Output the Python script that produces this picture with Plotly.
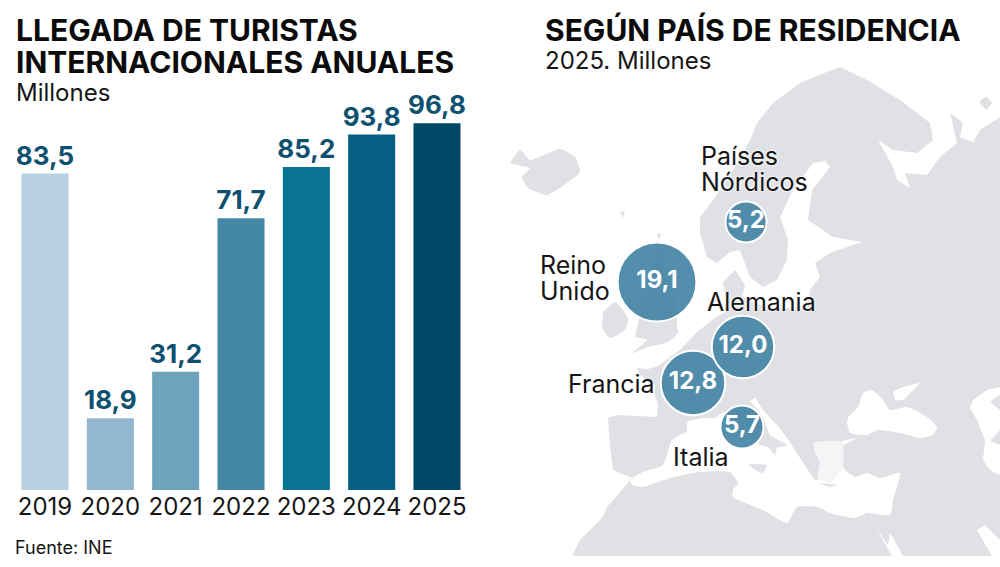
import plotly.graph_objects as go

# ---- data ----
years = ["2019", "2020", "2021", "2022", "2023", "2024", "2025"]
arrivals = [83.5, 18.9, 31.2, 71.7, 85.2, 93.8, 96.8]
bar_colors = ["#b8d2e2", "#93b7ce", "#6ea3bd", "#4487a6", "#0a7393", "#045f82", "#004867"]

origin_names = ["Países Nórdicos", "Reino Unido", "Francia", "Alemania", "Italia"]
origin_values = [5.2, 19.1, 12.8, 12.0, 5.7]
origin_map_x = [746, 657, 693, 743, 742]
origin_map_y = [222, 282, 383, 347, 427]

# ---- base map outlines, in map units ----
land_main = [(572,556),(580,540),(603,517),(607,507),(627,484),(632,478),(613,470),(610,447),(608,418),(617,415),(657,417),
 (658,405),(655,395),(655,385),(640,375),(637,368),(648,369),(658,366),(670,357),(680,350),(697,332),(715,318),(725,312),
 (725,295),(723,282),(735,270),(745,285),(742,296),(752,302),(770,308),(795,308),(807,305),(810,290),(820,277),(815,263),
 (830,253),(862,242),(833,237),(808,220),(812,190),(830,167),(825,161),(813,163),(793,190),(780,217),(788,240),(787,260),
 (777,280),(763,287),(750,277),(740,250),(730,252),(717,263),(707,257),(700,233),(700,217),(713,200),(733,170),(750,140),
 (757,123),(773,103),(800,83),(827,72),(840,67),(867,80),(900,100),(930,123),(933,140),(917,153),(893,150),(878,140),
 (893,167),(897,180),(910,188),(905,173),(927,175),(940,157),(957,143),(950,113),(963,123),(960,137),(973,142),(980,130),
 (1000,117),(1000,556)]
mediterranean = [(630,481),(632,478),(643,472),(663,465),(672,440),(687,431),(687,422),(703,418),(715,418),(722,413),(745,405),
 (755,398),(763,410),(777,425),(790,442),(800,458),(808,470),(815,480),(820,478),(822,465),(815,452),(815,445),(837,442),
 (857,438),(842,447),(843,467),(855,477),(867,473),(880,478),(890,475),(900,473),(893,500),(890,515),(867,513),(855,518),
 (830,513),(817,507),(797,507),(787,523),(763,510),(733,497),(733,490),(738,483),(730,472),(700,472),(670,478),(643,487),(632,485)]
italy = [(725,412),(750,402),(763,417),(770,435),(787,445),(777,448),(775,455),(768,447),(760,445),(745,430),(730,418)]
sicily = [(748,464),(767,465),(763,473),(755,470)]
crete = [(818,483),(838,485),(830,487)]
black_sea = [(847,423),(850,433),(867,435),(878,430),(900,433),(920,438),(933,435),(937,427),(927,417),(907,407),(890,410),
 (883,400),(872,390),(863,393),(858,407),(848,417)]
azov = [(893,392),(903,387),(920,383),(910,393),(903,400),(895,400)]
caspian = [(1000,387),(987,390),(973,400),(970,408),(977,420),(985,440),(983,460),(990,470),(1000,475),(1000,445),(990,441),
 (1000,430),(1000,410),(990,402),(1000,395)]
red_sea = [(977,530),(985,525),(1000,540),(1000,556),(992,556)]
suez = [(876,528),(888,545),(890,533),(903,556),(892,556)]
iceland = [(510,163),(520,150),(530,160),(537,158),(560,149),(575,157),(580,172),(567,183),(547,195),(528,188),(522,177),(530,168),(517,165)]
ireland = [(603,312),(615,302),(628,318),(625,330),(610,338),(602,328)]
britain = [(638,323),(643,300),(652,262),(660,245),(667,262),(676,300),(677,325),(678,333),(668,342),(648,347),(632,353),
 (647,340),(635,337)]
kolguev = [(979,102),(986,97),(992,103),(986,110)]
faroe = [(620,211),(625,212),(623,218)]
shetland = [(657,234),(661,233),(659,240)]
aegean_tint = [(813,442),(842,442),(843,467),(830,483),(818,478),(820,462)]

MAP_GREY = "#e0e1e5"
layers = [(land_main, MAP_GREY, "linear"), (mediterranean, "white", "spline"), (aegean_tint, "#f5f5f7", "spline"), (italy, MAP_GREY, "spline"),
          (sicily, MAP_GREY, "spline"), (crete, MAP_GREY, "linear"), (black_sea, "white", "spline"), (azov, "white", "spline"),
          (caspian, "white", "linear"), (red_sea, "white", "linear"), (suez, "white", "linear"),
          (iceland, MAP_GREY, "spline"), (ireland, MAP_GREY, "spline"), (britain, MAP_GREY, "spline"),
          (kolguev, MAP_GREY, "spline"), (faroe, MAP_GREY, "linear"), (shetland, MAP_GREY, "linear")]

FONT = "Inter, Liberation Sans, sans-serif"
fmt = lambda v: f"{v:.1f}".replace(".", ",")

fig = go.Figure()

for poly, col, shape in layers:
    fig.add_trace(go.Scatter(x=[p[0] for p in poly], y=[p[1] for p in poly], mode="lines", fill="toself",
                             fillcolor=col, line=dict(width=0, shape=shape, smoothing=0.5), hoverinfo="skip", showlegend=False,
                             xaxis="x2", yaxis="y2"))

fig.add_trace(go.Bar(x=years, y=arrivals, marker=dict(color=bar_colors, line=dict(width=0)),
                     text=[fmt(v) for v in arrivals], textposition="outside", cliponaxis=False, constraintext="none",
                     textfont=dict(family=FONT, size=26, color="#0e5070", weight=700),
                     hoverinfo="skip", showlegend=False, xaxis="x", yaxis="y"))

fig.add_trace(go.Scatter(x=origin_map_x, y=origin_map_y, mode="markers+text",
                         marker=dict(size=origin_values, sizemode="area", sizeref=0.00615, opacity=1,
                                     color="rgba(68,134,165,0.92)", line=dict(color="white", width=2)),
                         text=[fmt(v) for v in origin_values], textposition="middle center",
                         textfont=dict(family=FONT, size=24, color="white", weight=700),
                         hoverinfo="skip", showlegend=False, xaxis="x2", yaxis="y2"))

def note(x, y, txt, size, weight=400, color="#161616", shadow=None):
    font = dict(family=FONT, size=size, color=color, weight=weight)
    if shadow:
        font["shadow"] = shadow
    fig.add_annotation(x=x/1000, y=1-y/567, xref="paper", yref="paper", text=txt, showarrow=False,
                       xanchor="left", yanchor="middle", align="left", font=font, borderpad=0, borderwidth=0)

note(16, 30, "LLEGADA DE TURISTAS", 30, 700, "#0b0b0b")
note(16, 62, "INTERNACIONALES ANUALES", 30, 700, "#0b0b0b")
note(16, 93, "Millones", 24)
note(545, 30, "SEGÚN PAÍS DE RESIDENCIA", 30, 700, "#0b0b0b")
note(545, 61, "2025. Millones", 24)
note(15, 547, "Fuente: INE", 18)
halo = "0 0 3px white, 0 0 3px white"
note(701, 156, "Países", 25, shadow=halo)
note(701, 182, "Nórdicos", 25, shadow=halo)
note(540, 265, "Reino", 25)
note(540, 291, "Unido", 25)
note(707, 302, "Alemania", 25, shadow=halo)
note(568, 384, "Francia", 25)
note(673, 457, "Italia", 25)

fig.update_layout(
    width=1000, height=567, margin=dict(l=0, r=0, t=0, b=0), autosize=False,
    paper_bgcolor="white", plot_bgcolor="rgba(0,0,0,0)", bargap=0.28,
    xaxis=dict(domain=[0.01233, 0.46967], type="category", categoryorder="array", categoryarray=years,
               range=[-0.5, 6.5], showgrid=False, showline=False, ticks="", zeroline=False,
               tickfont=dict(family=FONT, size=24, color="#161616")),
    yaxis=dict(domain=[77/567, 1], range=[0, 490/3.79], visible=False, showgrid=False, zeroline=False),
    xaxis2=dict(domain=[0.5, 1], range=[500, 1000], visible=False, anchor="y2"),
    yaxis2=dict(domain=[0, 1], range=[567, 0], visible=False, anchor="x2"),
)

fig.write_html("out.html", config={"displayModeBar": False},
               post_script="document.body.style.margin='0';document.documentElement.style.overflow='hidden';")
